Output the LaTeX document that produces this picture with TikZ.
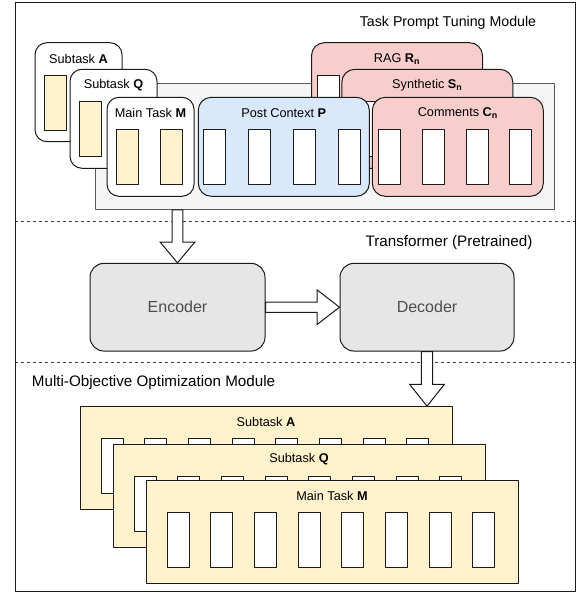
\documentclass[tikz,border=0pt]{standalone}
\usepackage{fontspec}
\setmainfont{Liberation Sans}
\usetikzlibrary{calc}
\definecolor{yel}{HTML}{FFF2CC}
\definecolor{blu}{HTML}{DAE8FC}
\definecolor{pnk}{HTML}{F8CECC}
\definecolor{bgg}{HTML}{F5F5F5}
\definecolor{encg}{HTML}{E6E6E6}
\definecolor{txtg}{HTML}{4D4D4D}
\definecolor{edge}{HTML}{1A1A1A}
\begin{document}
\begin{tikzpicture}[x=1pt,y=-1pt,line join=round,
  frame/.style={draw=edge,line width=1pt,inner sep=0pt},
  sepline/.style={draw=edge!85,line width=0.9pt,dash pattern=on 3pt off 3pt},
  bgbox/.style={draw=black!65,line width=1pt,fill=bgg,inner sep=0pt,minimum width=458.6pt,minimum height=126pt},
  tbox/.style={draw=edge,line width=1pt,rounded corners=12pt,fill=white,minimum width=87pt,minimum height=99pt,inner sep=0pt},
  cbox/.style={draw=edge,line width=1pt,rounded corners=13pt,minimum width=171pt,minimum height=99pt,inner sep=0pt},
  bbox/.style={draw=edge,line width=1pt,fill=yel,minimum width=372pt,minimum height=103.3pt,inner sep=0pt},
  slot/.style={draw=edge,line width=1pt,fill=white,minimum width=22pt,minimum height=55pt,inner sep=0pt},
  yslot/.style={slot,fill=yel},
  lbl/.style={inner sep=0pt,text=black,font=\fontsize{12.7}{15}\selectfont},
  tfm/.style={draw=edge,line width=1pt,fill=encg,rounded corners=14pt,minimum width=175pt,minimum height=87.7pt,inner sep=0pt,text=txtg,font=\fontsize{16}{19}\selectfont},
  blockarrow/.style={draw=edge,line width=1pt,fill=white,line join=miter},
  ttl/.style={inner sep=0pt,text=black}]
\useasboundingbox (0,0) rectangle (584,593);
% outer frame
\node[frame,minimum width=560pt,minimum height=588.7pt] (frame) at (295,297.35) {};
% separators
\coordinate (s1l) at (15,221.5);
\coordinate (s1r) at (575,221.5);
\coordinate (s2l) at (15,362.5);
\coordinate (s2r) at (575,362.5);
\draw[sepline] (s1l) -- (s1r);
\draw[sepline] (s2l) -- (s2r);
% titles
\node[ttl,font=\fontsize{14.2}{17}\selectfont] (t1) at (448,23.3) {Task Prompt Tuning Module};
\node[ttl,font=\fontsize{15.2}{18}\selectfont] (t2) at (449,242.3) {Transformer (Pretrained)};
\node[ttl,font=\fontsize{15.2}{18}\selectfont,anchor=west] (t3) at (31.7,382.7) {Multi-Objective Optimization Module};
% ---------- task prompt tuning module ----------
\node[bgbox] (bg) at (325,146.3) {};
\node[tbox] (topA) at (78.5,92.2) {};
\foreach \i in {0,1} \node[yslot] (topA\i) at ($(topA.north west)+(21.3+43.7*\i,60.5)$) {};
\node[lbl] (topAl) at ($(topA.north)+(0,16.5)$) {Subtask \textbf{A}};
\node[tbox] (topQ) at (113.5,118.8) {};
\foreach \i in {0,1} \node[yslot] (topQ\i) at ($(topQ.north west)+(21.3+43.7*\i,60.5)$) {};
\node[lbl] (topQl) at ($(topQ.north)+(0,16.5)$) {Subtask \textbf{Q}};
\node[tbox] (topM) at (150.5,146.8) {};
\foreach \i in {0,1} \node[yslot] (topM\i) at ($(topM.north west)+(21.3+43.7*\i,60.5)$) {};
\node[lbl] (topMl) at ($(topM.north)+(0,16.5)$) {Main Task \textbf{M}};
% RAG
\node[cbox,fill=pnk] (rag) at (397,92.2) {};
\foreach \i in {0,...,3} \node[slot] (rag\i) at ($(rag.north west)+(17.2+43.6*\i,60.5)$) {};
\node[lbl] (ragl) at ($(rag.north)+(0,16.6)$) {RAG \textbf{R}\textsubscript{\textbf{n}}};
% Synthetic
\node[cbox,fill=pnk] (syn) at (427.3,118.8) {};
\foreach \i in {0,...,3} \node[slot] (syn\i) at ($(syn.north west)+(33.6+43.6*\i,60.2)$) {};
\node[lbl] (synl) at ($(syn.north)+(0,16.6)$) {Synthetic \textbf{S}\textsubscript{\textbf{n}}};
% Post context
\node[cbox,fill=blu] (post) at (283.8,146.8) {};
\foreach \i in {0,...,3} \node[slot] (post\i) at ($(post.north west)+(17+45*\i,60.5)$) {};
\node[lbl] (postl) at ($(post.north)+(0,16.2)$) {Post Context \textbf{P}};
% Comments
\node[cbox,fill=pnk] (com) at (457.8,146.8) {};
\foreach \i in {0,...,3} \node[slot] (com\i) at ($(com.north west)+(18+43.6*\i,60.5)$) {};
\node[lbl] (coml) at ($(com.north)+(0,16.2)$) {Comments \textbf{C}\textsubscript{\textbf{n}}};
% ---------- transformer ----------
\node[tfm] (enc) at (177.5,307.2) {Encoder};
\node[tfm,minimum width=174pt] (dec) at (427,307.2) {Decoder};
% ---------- multi-objective module ----------
\node[bbox] (botA) at (266,458.3) {};
\foreach \i in {0,...,7} \node[slot] (botA\i) at ($(botA.north west)+(32.65+43.67*\i,60.1)$) {};
\node[lbl] (botAl) at ($(botA.north)+(0,16)$) {Subtask \textbf{A}};
\node[bbox] (botQ) at (299,495.7) {};
\foreach \i in {0,...,7} \node[slot] (botQ\i) at ($(botQ.north west)+(32.65+43.67*\i,60.1)$) {};
\node[lbl] (botQl) at ($(botQ.north)+(0,16)$) {Subtask \textbf{Q}};
\node[bbox] (botM) at (332,532.3) {};
\foreach \i in {0,...,7} \node[slot] (botM\i) at ($(botM.north west)+(32.65+43.67*\i,60.1)$) {};
\node[lbl] (botMl) at ($(botM.north)+(0,16)$) {Main Task \textbf{M}};
% ---------- block arrows ----------
\draw[blockarrow] let \p1=(enc.north), \p2=(bg.south) in
  (\x1-5.3pt,\y2) -- (\x1-5.3pt,\y1+20.6pt) -- (\x1-17.2pt,\y1+20.6pt) -- (\x1,\y1)
  -- (\x1+17.2pt,\y1+20.6pt) -- (\x1+5.3pt,\y1+20.6pt) -- (\x1+5.3pt,\y2) -- cycle;
\draw[blockarrow] let \p1=(enc.east), \p2=(dec.west) in
  (\x1,\y1+5.2pt) -- (\x2-22.3pt,\y1+5.2pt) -- (\x2-22.3pt,\y1+17.2pt) -- (\x2,\y2)
  -- (\x2-22.3pt,\y1-17.2pt) -- (\x2-22.3pt,\y1-5.2pt) -- (\x1,\y1-5.2pt) -- cycle;
\draw[blockarrow] let \p1=(dec.south), \p2=(botA.north) in
  (\x1-5.6pt,\y1) -- (\x1-5.6pt,\y2+21.7pt) -- (\x1-17.3pt,\y2+21.7pt) -- (\x1,\y2)
  -- (\x1+17.3pt,\y2+21.7pt) -- (\x1+5.6pt,\y2+21.7pt) -- (\x1+5.6pt,\y1) -- cycle;
\end{tikzpicture}
\end{document}
